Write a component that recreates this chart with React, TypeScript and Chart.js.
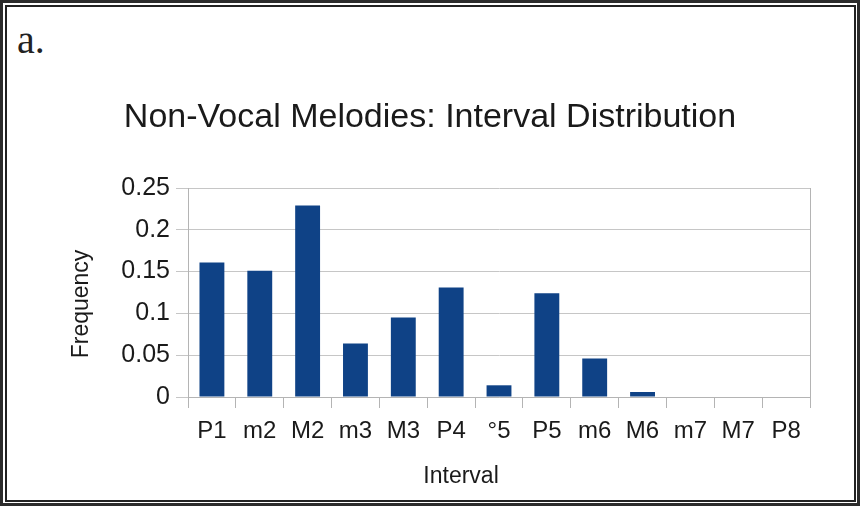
import React, { useEffect, useRef } from "react";
import { Chart, registerables } from "chart.js";

Chart.register(...registerables);

const categories = ["P1", "m2", "M2", "m3", "M3", "P4", "°5", "P5", "m6", "M6", "m7", "M7", "P8"];
const frequency = [0.161, 0.151, 0.229, 0.064, 0.095, 0.131, 0.014, 0.124, 0.046, 0.006, 0, 0, 0];
const yTicks = [0, 0.05, 0.1, 0.15, 0.2, 0.25];
const chartTitle = "Non-Vocal Melodies: Interval Distribution";
const xTitle = "Interval";
const yTitle = "Frequency";
const panelLabel = "a.";

const FONT = '"Liberation Sans", Arial, Helvetica, sans-serif';
const GRID = "#c6c6c6";
const AXIS = "#b4b4b4";
const TEXT = "#1a1a1a";
const BAR = "#0f4286";

const axisTitles = {
  id: "axisTitles",
  afterDraw(chart: any) {
    const { ctx, chartArea: a } = chart;
    ctx.save();
    ctx.fillStyle = TEXT;
    ctx.font = `23px ${FONT}`;
    ctx.textAlign = "center";
    ctx.textBaseline = "middle";
    ctx.fillText(xTitle, a.left + (a.right - a.left) * 0.439, a.bottom + 80);
    ctx.translate(a.left - 106, a.top + (a.bottom - a.top) * 0.555);
    ctx.rotate(-Math.PI / 2);
    ctx.fillText(yTitle, 0, 0);
    ctx.restore();
  },
};

export default function App() {
  const canvasRef = useRef<HTMLCanvasElement | null>(null);

  useEffect(() => {
    if (!canvasRef.current) return;
    const chart = new Chart(canvasRef.current, {
      type: "bar",
      data: {
        labels: categories,
        datasets: [
          {
            data: frequency,
            backgroundColor: BAR,
            borderWidth: 0,
            barPercentage: 1,
            categoryPercentage: 0.52,
          },
        ],
      },
      options: {
        animation: false,
        responsive: true,
        maintainAspectRatio: false,
        layout: { padding: { top: 0, left: 0, right: 0, bottom: 0 } },
        plugins: {
          legend: { display: false },
          tooltip: { enabled: false },
          title: {
            display: true,
            text: chartTitle,
            color: TEXT,
            font: { size: 34, family: FONT, weight: "normal" as any },
            padding: { top: 97, bottom: 50.2 },
          },
        },
        scales: {
          x: {
            offset: true,
            grid: {
              offset: true,
              drawOnChartArea: true,
              color: (c: any) => (c.type === "scale" ? AXIS : "rgba(0,0,0,0)"),
              tickColor: AXIS,
              tickLength: 11,
              lineWidth: 1,
            },
            border: { display: true, color: AXIS },
            ticks: {
              color: TEXT,
              font: { size: 24, family: FONT },
              padding: 9,
              maxRotation: 0,
              autoSkip: false,
            },
            afterFit: (s: any) => {
              s.height = 109;
            },
          },
          y: {
            min: 0,
            max: 0.25,
            afterBuildTicks: (s: any) => {
              s.ticks = yTicks.map((v) => ({ value: v }));
            },
            grid: { color: GRID, tickColor: GRID, tickLength: 12, lineWidth: 1 },
            border: { display: true, color: AXIS },
            ticks: {
              color: TEXT,
              font: { size: 25, family: FONT },
              padding: 6,
              callback: (v: any) => String(Number(Number(v).toFixed(2))),
            },
            afterFit: (s: any) => {
              s.width = 188;
            },
          },
          yRight: {
            position: "right",
            display: true,
            grid: { display: false, drawTicks: false },
            border: { display: false },
            ticks: { display: false },
            afterFit: (s: any) => {
              s.width = 50;
            },
          },
        },
      },
      plugins: [axisTitles],
    });
    return () => chart.destroy();
  }, []);

  return (
    <div style={{ position: "absolute", left: 0, top: 0, width: 860, height: 506, background: "#fff" }}>
      <div
        style={{
          position: "absolute",
          left: 0,
          top: 0,
          width: 860,
          height: 506,
          border: "3px solid #2c2c2c",
          boxSizing: "border-box",
        }}
      />
      <div
        style={{
          position: "absolute",
          left: 5,
          top: 5,
          width: 851,
          height: 497,
          border: "2px solid #222",
          boxSizing: "border-box",
        }}
      />
      <div
        style={{
          position: "absolute",
          left: 17,
          top: 20,
          fontFamily: '"Liberation Serif", "Times New Roman", serif',
          fontSize: 40,
          lineHeight: "40px",
          color: "#222",
        }}
      >
        {panelLabel}
      </div>
      <div style={{ position: "absolute", left: 0, top: 0, width: 860, height: 506 }}>
        <canvas ref={canvasRef} />
      </div>
    </div>
  );
}
